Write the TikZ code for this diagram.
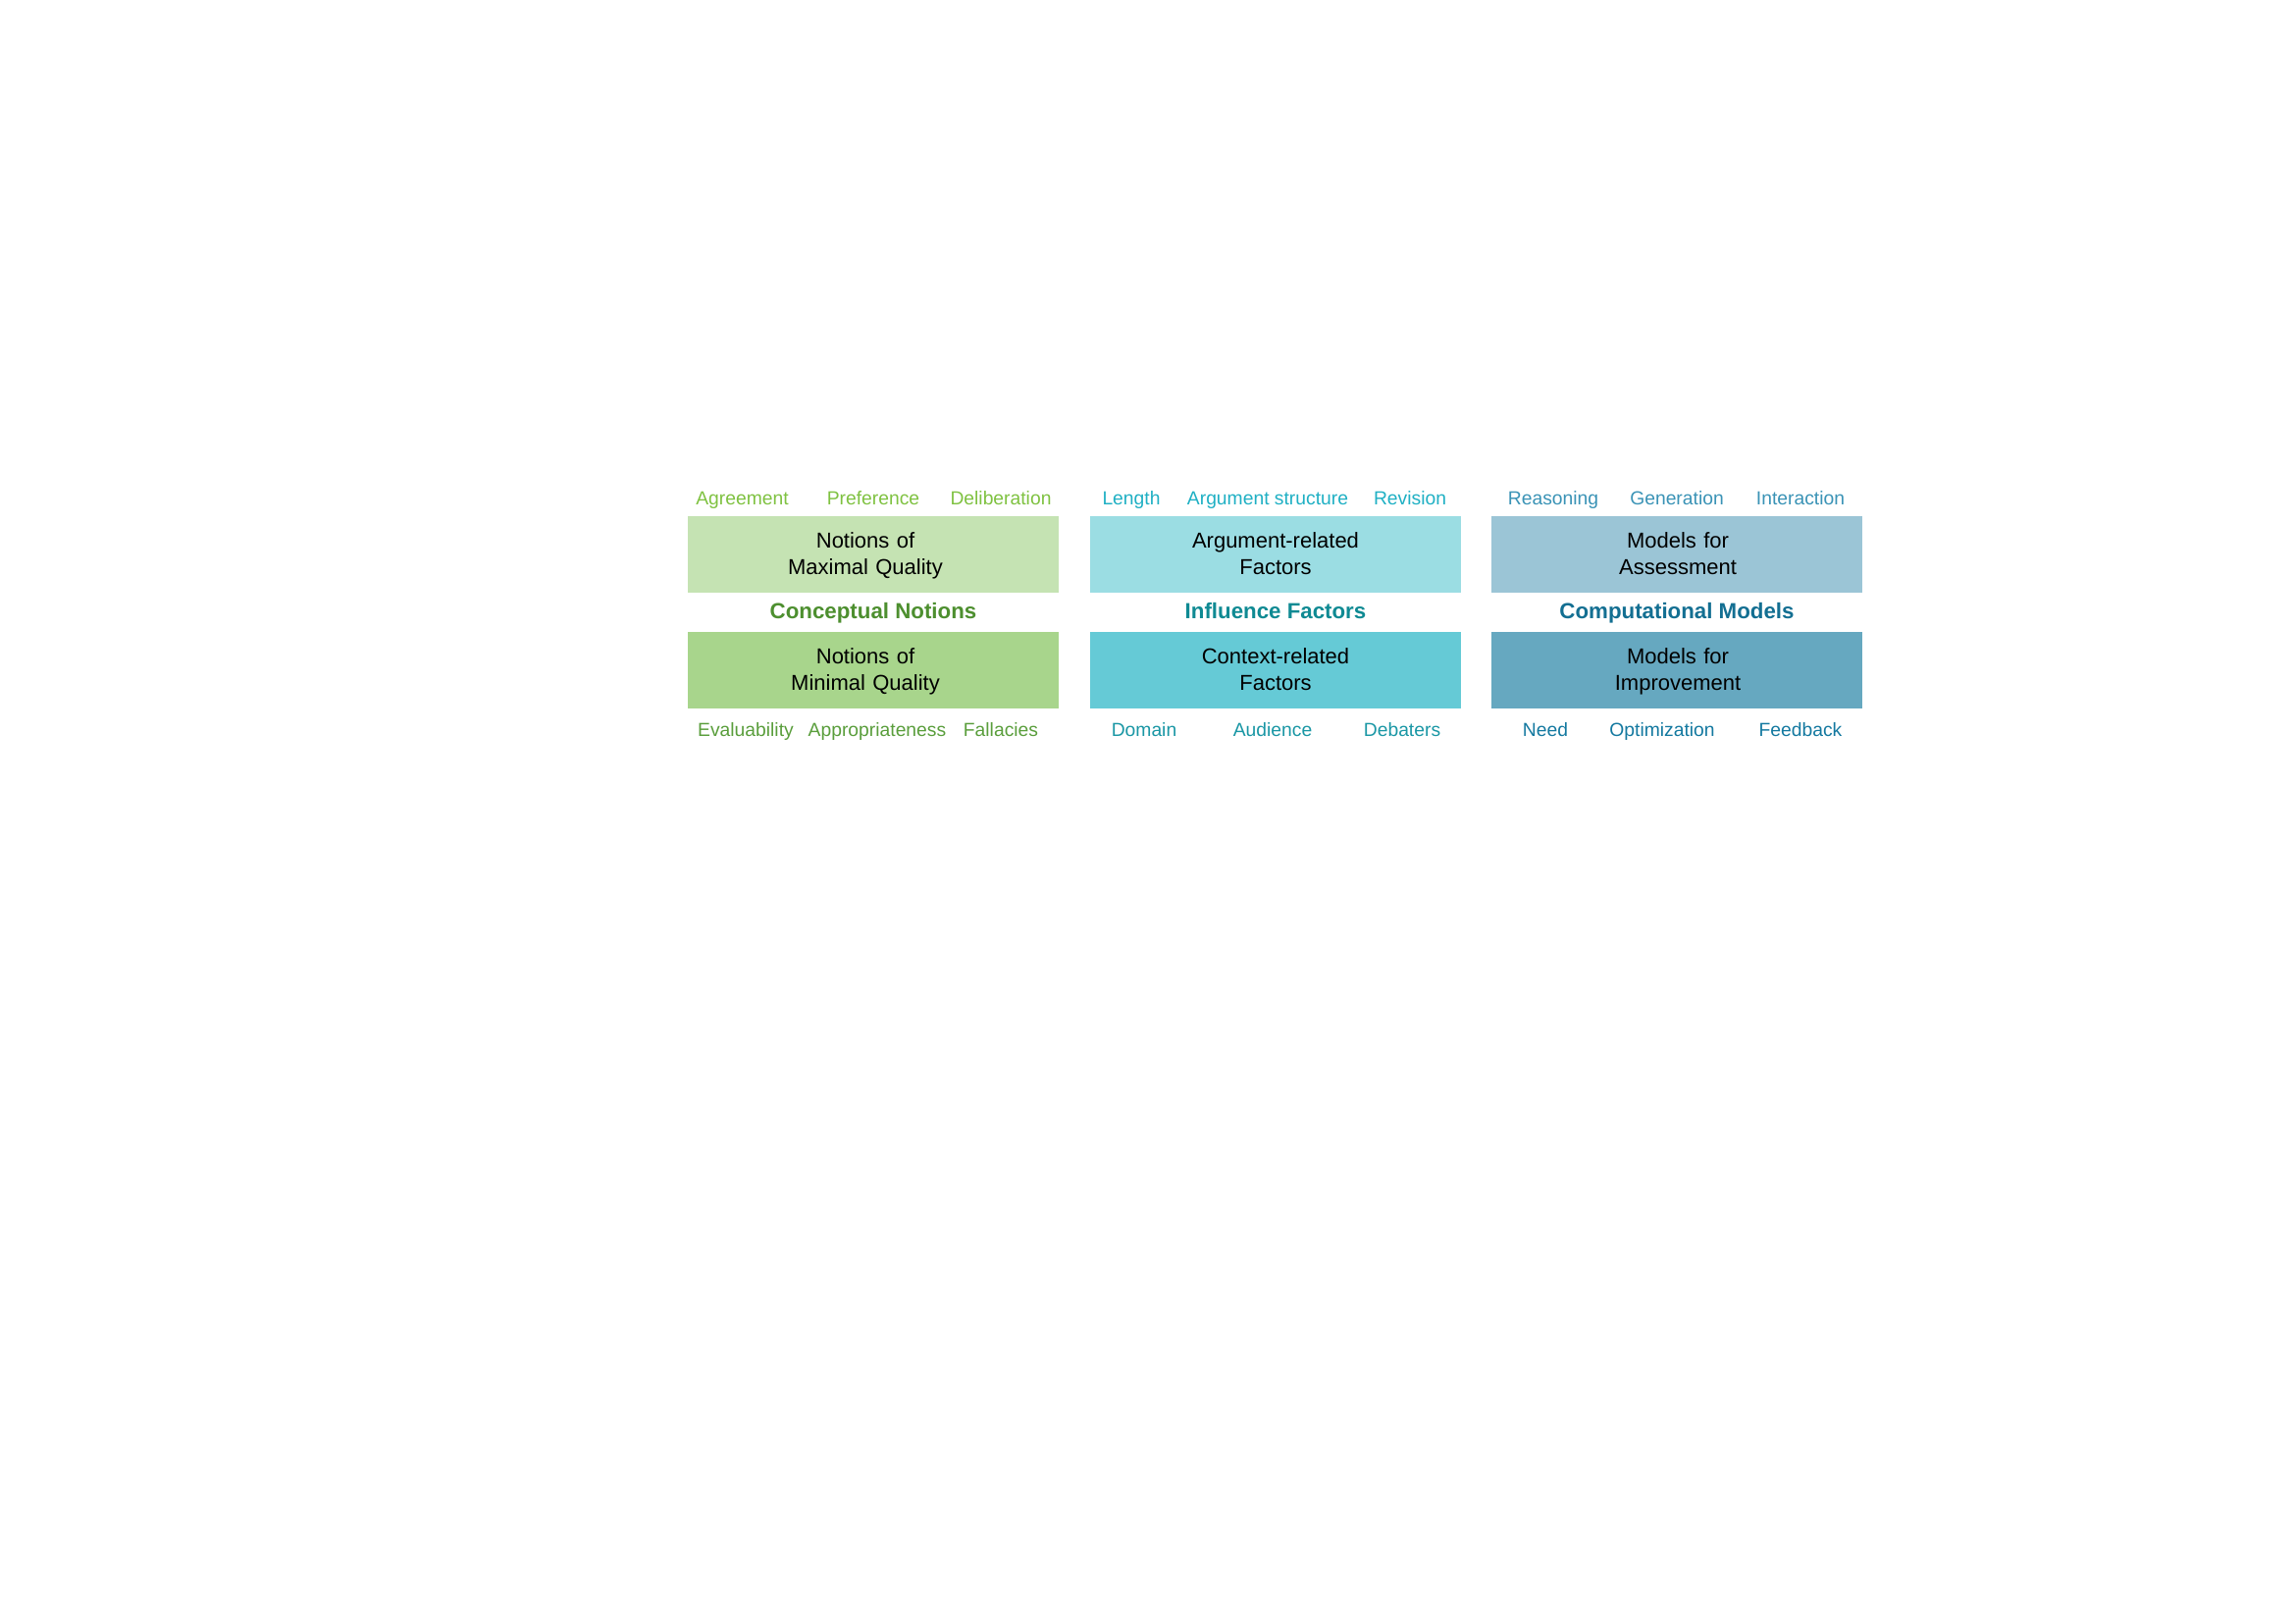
\documentclass[tikz,border=0pt]{standalone}
\usepackage{fontspec}
\setmainfont{Liberation Sans}
\definecolor{gAtop}{HTML}{7FC241}
\definecolor{gAtitle}{HTML}{4D8F2F}
\definecolor{gAbot}{HTML}{5A9E3C}
\definecolor{gAboxa}{HTML}{C5E3B3}
\definecolor{gAboxb}{HTML}{A8D58C}
\definecolor{gBtop}{HTML}{1FB0C4}
\definecolor{gBtitle}{HTML}{0F8A93}
\definecolor{gBbot}{HTML}{1A97A5}
\definecolor{gBboxa}{HTML}{9BDDE3}
\definecolor{gBboxb}{HTML}{65CAD6}
\definecolor{gCtop}{HTML}{3A93B6}
\definecolor{gCtitle}{HTML}{136F92}
\definecolor{gCbot}{HTML}{1479A0}
\definecolor{gCboxa}{HTML}{9BC5D6}
\definecolor{gCboxb}{HTML}{66A8C0}
\begin{document}
\begin{tikzpicture}[x=1pt,y=-1pt,
  panel/.style={draw=none, rectangle, minimum width=378pt, minimum height=78.3pt, inner sep=0pt},
  boxtext/.style={anchor=base, inner sep=0pt, text width=378pt, align=center, font=\fontsize{22}{27}\selectfont, text=black},
  lab/.style={anchor=base, inner sep=0pt, font=\fontsize{19.3}{23}\selectfont},
  ttl/.style={anchor=base, inner sep=0pt, font=\fontsize{22.3}{26}\selectfont\bfseries}]
\path[use as bounding box, fill=white] (0,0) rectangle (2339,1654);

% Group 1
\node[panel, fill=gAboxa] (maxq) at (890,564.9) {};
\node[panel, fill=gAboxb] (minq) at (890,683) {};
\node[boxtext] (maxqt) at (882,558) {Notions of\\Maximal Quality};
\node[boxtext] (minqt) at (882,676.3) {Notions of\\Minimal Quality};
\node[ttl, text=gAtitle] (cn) at (890,630.5) {Conceptual Notions};
\node[lab, text=gAtop] (agree) at (756.5,514.3) {Agreement};
\node[lab, text=gAtop] (pref) at (890,514.3) {Preference};
\node[lab, text=gAtop] (delib) at (1020,514.3) {Deliberation};
\node[lab, text=gAbot] (eval) at (760,750) {Evaluability};
\node[lab, text=gAbot] (appr) at (894,750) {Appropriateness};
\node[lab, text=gAbot] (fall) at (1020,750) {Fallacies};

% Group 2
\node[panel, fill=gBboxa] (argf) at (1299.5,564.9) {};
\node[panel, fill=gBboxb] (ctxf) at (1299.5,683) {};
\node[boxtext] (argft) at (1300,558) {Argument-related\\Factors};
\node[boxtext] (ctxft) at (1300,676.3) {Context-related\\Factors};
\node[ttl, text=gBtitle] (inf) at (1300,630.5) {Influence Factors};
\node[lab, text=gBtop] (len) at (1153,514.3) {Length};
\node[lab, text=gBtop] (astr) at (1292,514.3) {Argument structure};
\node[lab, text=gBtop] (rev) at (1437,514.3) {Revision};
\node[lab, text=gBbot] (dom) at (1166,750) {Domain};
\node[lab, text=gBbot] (aud) at (1297,750) {Audience};
\node[lab, text=gBbot] (deb) at (1429,750) {Debaters};

% Group 3
\node[panel, fill=gCboxa] (assm) at (1709,564.9) {};
\node[panel, fill=gCboxb] (impr) at (1709,683) {};
\node[boxtext] (assmt) at (1710,558) {Models for\\Assessment};
\node[boxtext] (imprt) at (1710,676.3) {Models for\\Improvement};
\node[ttl, text=gCtitle] (cm) at (1709,630.5) {Computational Models};
\node[lab, text=gCtop] (reas) at (1583,514.3) {Reasoning};
\node[lab, text=gCtop] (gen) at (1709,514.3) {Generation};
\node[lab, text=gCtop] (inter) at (1835,514.3) {Interaction};
\node[lab, text=gCbot] (need) at (1575,750) {Need};
\node[lab, text=gCbot] (opt) at (1694,750) {Optimization};
\node[lab, text=gCbot] (feed) at (1835,750) {Feedback};
\end{tikzpicture}
\end{document}
